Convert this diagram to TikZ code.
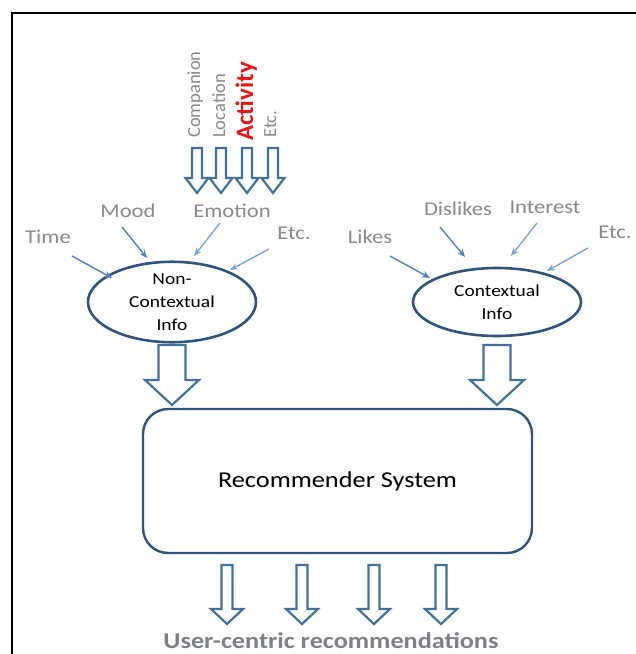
\documentclass[tikz,border=0pt]{standalone}
\usepackage{fontspec}
\setmainfont{Carlito}
\usetikzlibrary{arrows.meta,shapes.geometric}

\definecolor{lblgray}{RGB}{137,137,137}
\definecolor{navy}{RGB}{47,84,128}
\definecolor{arrowblue}{RGB}{65,113,156}
\definecolor{linkblue}{RGB}{79,129,189}
\definecolor{linklight}{RGB}{125,166,214}
\definecolor{outgray}{RGB}{125,128,133}
\definecolor{actred}{RGB}{235,20,20}

% hollow block arrow pointing down: x, top, neck, tip, shaft half-width, head half-width
\newcommand\blockdown[6]{%
  \draw[blockarrow] ({#1-#5},#2) -- ({#1+#5},#2) -- ({#1+#5},#3) -- ({#1+#6},#3)
    -- (#1,#4) -- ({#1-#6},#3) -- ({#1-#5},#3) -- cycle;}

\begin{document}
\begin{tikzpicture}[x=1pt,y=-1pt,
  lbl/.style={text=lblgray, font=\fontsize{19.5}{22}\selectfont, inner sep=0pt, xscale=1.16, anchor=base},
  vlbl/.style={text=lblgray, font=\fontsize{18.5}{20}\selectfont, inner sep=0pt, rotate=90, anchor=base west},
  info/.style={ellipse, draw=navy, line width=2.6pt, minimum width=144.8pt, minimum height=68pt,
    inner sep=0pt, align=center, xscale=1.16, font=\fontsize{16.8}{23}\selectfont},
  sysbox/.style={draw=navy, line width=2.4pt, rounded corners=25pt, minimum width=335.3pt,
    minimum height=144pt, xscale=1.16, font=\fontsize{22.7}{26}\selectfont},
  blockarrow/.style={draw=arrowblue, fill=white, line width=2.2pt, line join=miter},
  link/.style={draw=linkblue, line width=1.4pt, -{Stealth[length=8pt,width=6.5pt]}},
  linklt/.style={link, draw=linklight},
]
\useasboundingbox (0,0) rectangle (636,654);

% page frame (top and left edges)
\draw[line width=2pt] (636,12.5) -- (11.5,12.5) -- (11.5,654);

% context dimensions above the left ellipse
\node[vlbl] (comp) at (200,138) {Companion};
\node[vlbl] (loc)  at (225,138) {Location};
\node[vlbl, text=actred, font=\fontsize{25}{28}\selectfont\bfseries] (act) at (253,141) {Activity};
\node[vlbl] (etcv) at (276,138) {Etc.};
\blockdown{197}{148}{178}{193}{5}{11.5}
\blockdown{221}{148}{178}{193}{5}{11.5}
\blockdown{247}{148}{178}{193}{5}{11.5}
\blockdown{273}{148}{178}{193}{5}{11.5}

% information sources
\node[info] (nc) at (172,302) {Non-\\Contextual\\Info};
\node[info] (cx) at (497,302) {Contextual\\Info};

% inputs of the non-contextual part
\node[lbl] (time)  at (48,243)  {Time};
\node[lbl] (mood)  at (128,217) {Mood};
\node[lbl] (emo)   at (232,217) {Emotion};
\node[lbl] (etcl)  at (294,239) {Etc.};
\coordinate (time-s) at (72,256);  \coordinate (time-e) at (112,278);
\coordinate (mood-s) at (122,227); \coordinate (mood-e) at (147,258);
\coordinate (emo-s)  at (220,223); \coordinate (emo-e)  at (194,256);
\coordinate (etcl-s) at (269,249); \coordinate (etcl-e) at (230,270);
\draw[link]   (time-s) -- (time-e);
\draw[link]   (mood-s) -- (mood-e);
\draw[linklt] (emo-s)  -- (emo-e);
\draw[linklt] (etcl-s) -- (etcl-e);

% inputs of the contextual part
\node[lbl] (likes) at (370,243) {Likes};
\node[lbl] (disl)  at (458,215) {Dislikes};
\node[lbl] (intr)  at (545,213) {Interest};
\node[lbl] (etcr)  at (615,238) {Etc.};
\coordinate (likes-s) at (390,256); \coordinate (likes-e) at (430,278);
\coordinate (disl-s)  at (440,227); \coordinate (disl-e)  at (465,257);
\coordinate (intr-s)  at (537,223); \coordinate (intr-e)  at (511,256);
\coordinate (etcr-s)  at (588,248); \coordinate (etcr-e)  at (547,271);
\draw[link]   (likes-s) -- (likes-e);
\draw[link]   (disl-s)  -- (disl-e);
\draw[linklt] (intr-s)  -- (intr-e);
\draw[linklt] (etcr-s)  -- (etcr-e);

% recommender engine
\node[sysbox] (rs) at (337.5,481) {Recommender System};
\blockdown{172}{345}{380}{405}{13.5}{27}
\blockdown{497}{345}{380}{405}{13.5}{27}

% outputs
\blockdown{227}{565}{609}{624}{5.5}{16}
\blockdown{302}{565}{609}{624}{5.5}{16}
\blockdown{374}{565}{609}{624}{5.5}{16}
\blockdown{441}{565}{609}{624}{5.5}{16}
\node[lbl, text=outgray, font=\fontsize{22.6}{26}\selectfont\bfseries] (out) at (331,648) {User-centric recommendations};
\end{tikzpicture}
\end{document}
